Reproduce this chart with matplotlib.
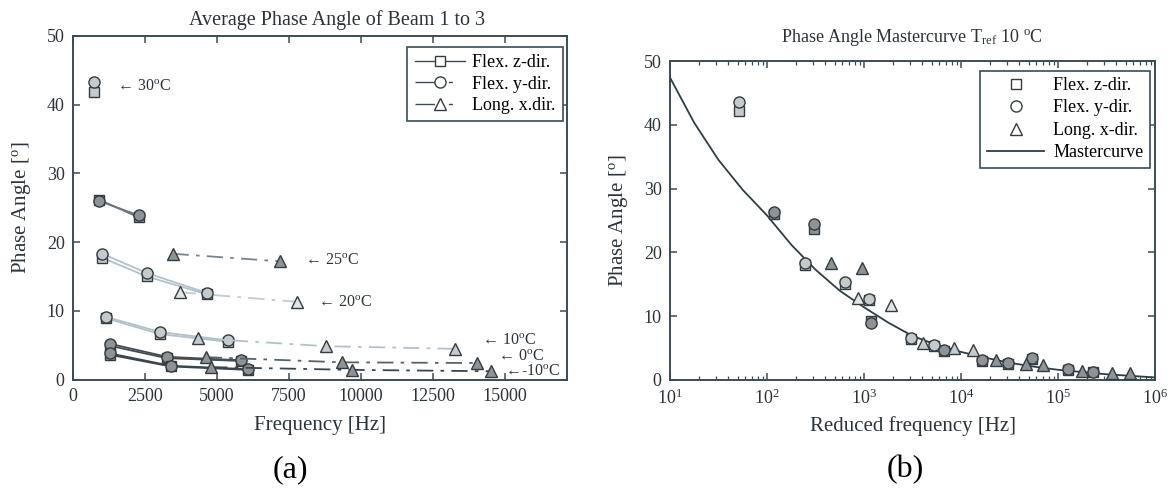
import matplotlib
matplotlib.use('Agg')
import matplotlib.pyplot as plt
from matplotlib.lines import Line2D
from matplotlib.ticker import LogLocator, NullFormatter

plt.rcParams['font.family'] = ['Liberation Serif', 'DejaVu Serif']
plt.rcParams['mathtext.fontset'] = 'custom'
plt.rcParams['mathtext.rm'] = 'Liberation Serif'
plt.rcParams['mathtext.it'] = 'Liberation Serif:italic'

# ---- (a) average phase angle per temperature, beams 1 to 3 ----
# flexural modes (z and y direction), one list per temperature
flex_freq = [[740], [896, 2278], [1024, 2560, 4646], [1152, 3033, 5376],
             [1280, 3264, 5824], [1280, 3392, 6080]]
flex_y_ang = [[43.3], [26.0, 23.9], [18.3, 15.5, 12.6], [9.1, 6.9, 5.7],
              [5.2, 3.3, 2.8], [3.8, 2.0, 1.5]]
flex_z_ang = [[41.9], [26.2, 23.6], [17.7, 15.0, 12.4], [8.9, 6.6, 5.5],
              [4.9, 3.1, 2.7], [3.6, 1.9, 1.4]]
# longitudinal mode (x direction)
long_freq = [[3456, 7193], [3712, 7782], [4326, 8768, 13273],
             [4608, 9344, 14015], [4800, 9702, 14528]]
long_ang = [[18.3, 17.2], [12.7, 11.3], [6.0, 4.85, 4.46],
            [3.25, 2.5, 2.4], [1.8, 1.4, 1.2]]

temp_text = ['30', '25', '20', '10', '0', '-10']
temp_f = [1536, 8038, 8511, 14190, 14760, 15000]
temp_v = [42.6, 17.3, 11.2, 5.6, 3.3, 1.1]

# ---- (b) mastercurve at Tref = 10 C ----
mc_freq = [10, 17.8, 31.6, 56.2, 100, 178, 316, 562, 1000, 1778, 3162, 5623,
           1e4, 1.78e4, 3.16e4, 5.62e4, 1e5, 3.16e5, 1e6]
mc_ang = [47.4, 40.3, 34.5, 29.8, 25.8, 21.2, 17.3, 14.0, 11.4, 9.0, 6.9, 5.5,
          4.4, 3.5, 2.7, 2.1, 1.6, 0.9, 0.4]

red_f_flex = [52, 117, 302, 245, 631, 1122, 1175, 3020, 5250, 6610, 16600,
              30200, 53700, 126000, 229000]
red_y_ang = [43.6, 26.3, 24.4, 18.3, 15.4, 12.75, 9.0, 6.6, 5.5, 4.7, 3.2,
             2.6, 3.5, 1.8, 1.3]
red_z_ang = [42.1, 26.0, 23.7, 18.0, 15.0, 12.5, 9.3, 6.4, 5.3, 4.5, 3.0,
             2.5, 3.3, 1.6, 1.2]
red_f_long = [457, 955, 871, 1905, 4070, 8510, 13200, 22900, 46800, 70800,
              178000, 363000, 550000]
red_x_ang = [18.4, 17.5, 12.9, 11.7, 5.8, 5.0, 4.7, 3.2, 2.5, 2.4, 1.4,
             1.05, 1.05]

# styles
ink = '#2b3439'
frame = '#3a4d57'
edge = '#353c40'
fills = {'d': '#8d9396', 'l': '#c5cacc', 'w': '#e2e5e6'}
flex_fill = ['l', 'd', 'l', 'l', 'd', 'd']
flex_line = ['#606a70', '#6b767c', '#b3c1ca', '#b3c1ca', '#434d53', '#3b454b']
long_fill = ['d', 'w', 'l', 'd', 'd']
long_line = ['#77858d', '#bfccd4', '#b3c1ca', '#56636a', '#3b454b']
red_y_fill = ['l', 'd', 'd', 'l', 'l', 'l', 'd', 'l', 'l', 'd', 'd', 'd', 'd', 'd', 'd']
red_x_fill = ['d', 'd', 'w', 'w', 'l', 'l', 'l', 'd', 'd', 'd', 'd', 'd', 'd']
dashdot = (0, (9, 4, 2, 4))

fig = plt.figure(figsize=(11.7, 4.93), dpi=100)
ax1 = fig.add_axes([73/1170, 1-379.5/493, (567-73)/1170, (379.5-36)/493])
ax2 = fig.add_axes([670/1170, 1-380/493, (1155-670)/1170, (380-61)/493])

for i in range(len(flex_freq)):
    ax1.plot(flex_freq[i], flex_z_ang[i], ls='-', marker='s', color=flex_line[i],
             mfc=fills[flex_fill[i]], mec=edge, ms=6.5, lw=1.3, mew=1)
    ax1.plot(flex_freq[i], flex_y_ang[i], ls='-', marker='o', color=flex_line[i],
             mfc=fills[flex_fill[i]], mec=edge, ms=8, lw=1.3, mew=1)
for i in range(len(long_freq)):
    ax1.plot(long_freq[i], long_ang[i], ls=dashdot, marker='^', color=long_line[i],
             mfc=fills[long_fill[i]], mec=edge, ms=9, lw=1.3, mew=1)

for t, f, v in zip(temp_text, temp_f, temp_v):
    lab = '\u2190' + ('' if t.startswith('-') else ' ') + t + r'$^{\rm o}$C'
    ax1.text(f, v, lab, ha='left', va='center', fontsize=11.5, color=ink)

ax1.set_xlim(0, 17150)
ax1.set_ylim(0, 50)
ax1.set_xticks(range(0, 15001, 2500))
ax1.set_yticks(range(0, 51, 10))
ax1.set_xlabel('Frequency [Hz]', fontsize=15, color=ink, labelpad=8)
ax1.set_ylabel(r'Phase Angle [$^{\rm o}$]', fontsize=15, color=ink, labelpad=10)

h1 = [Line2D([], [], color=frame, lw=1, marker='s', mfc='white', mec=edge, ms=7),
      Line2D([], [], color=frame, lw=1, ls=(0, (14, 10, 3, 10)), marker='o', mfc='white', mec=edge, ms=8),
      Line2D([], [], color=frame, lw=1, ls=(0, (14, 10, 3, 10)), marker='^', mfc='white', mec=edge, ms=8)]
leg1 = ax1.legend(h1, ['Flex. z-dir.', 'Flex. y-dir.', 'Long. x.dir.'],
                  loc='upper right', bbox_to_anchor=(563/1170, 1-47/493),
                  bbox_transform=fig.transFigure, borderaxespad=0, fontsize=13,
                  fancybox=False, edgecolor=frame, framealpha=1, handlelength=2.8,
                  labelspacing=0.25, borderpad=0.4, handletextpad=0.4)
leg1.get_frame().set_linewidth(1.2)

# mastercurve panel
ax2.plot(mc_freq, mc_ang, color='#2f3d45', lw=1.3, zorder=3)
for f, v, c in zip(red_f_flex, red_z_ang, red_y_fill):
    ax2.plot(f, v, 's', mfc=fills[c], mec=edge, ms=6.5, mew=1, zorder=4)
for f, v, c in zip(red_f_flex, red_y_ang, red_y_fill):
    ax2.plot(f, v, 'o', mfc=fills[c], mec=edge, ms=8, mew=1, zorder=5)
for f, v, c in zip(red_f_long, red_x_ang, red_x_fill):
    ax2.plot(f, v, '^', mfc=fills[c], mec=edge, ms=9, mew=1, zorder=5)

ax2.set_xscale('log')
ax2.set_xlim(10, 1e6)
ax2.set_ylim(0, 50)
ax2.set_yticks(range(0, 51, 10))
ax2.xaxis.set_minor_locator(LogLocator(base=10, subs=range(2, 10), numticks=20))
ax2.xaxis.set_minor_formatter(NullFormatter())
ax2.set_xlabel('Reduced frequency [Hz]', fontsize=15, color=ink, labelpad=6)
ax2.set_ylabel(r'Phase Angle [$^{\rm o}$]', fontsize=15, color=ink, labelpad=10)

h2 = [Line2D([], [], ls='none', marker='s', mfc='white', mec=edge, ms=7),
      Line2D([], [], ls='none', marker='o', mfc='white', mec=edge, ms=8),
      Line2D([], [], ls='none', marker='^', mfc='white', mec=edge, ms=8),
      Line2D([], [], color='#2f3d45', lw=1.3)]
leg2 = ax2.legend(h2, ['Flex. z-dir.', 'Flex. y-dir.', 'Long. x-dir.', 'Mastercurve'],
                  loc='upper right', bbox_to_anchor=(1150/1170, 1-70.7/493),
                  bbox_transform=fig.transFigure, borderaxespad=0, fontsize=13,
                  fancybox=False, edgecolor=frame, framealpha=1, handlelength=3.2,
                  labelspacing=0.3, borderpad=0.35, handletextpad=0.5)
leg2.get_frame().set_linewidth(1.2)

for ax in (ax1, ax2):
    for s in ax.spines.values():
        s.set_color(frame)
        s.set_linewidth(1.4)
    ax.tick_params(which='major', direction='in', top=True, right=True, length=5,
                   width=1.1, colors=frame, labelcolor=ink, labelsize=13, pad=6)
    ax.tick_params(which='minor', direction='in', top=True, right=True, length=3,
                   width=0.9, colors=frame)

fig.text(337/1170, 1-20/493, 'Average Phase Angle of Beam 1 to 3',
         ha='center', va='center', fontsize=14.5, color=ink)
fig.text(912/1170, 1-37/493, r'Phase Angle Mastercurve T$_{\rm ref}$ 10 $^{\rm o}$C',
         ha='center', va='center', fontsize=13, color=ink)
fig.text(290/1170, 1-470/493, '(a)', ha='center', va='center', fontsize=23, color='black')
fig.text(905/1170, 1-470/493, '(b)', ha='center', va='center', fontsize=23, color='black')

fig.savefig('out.png', dpi=100)
